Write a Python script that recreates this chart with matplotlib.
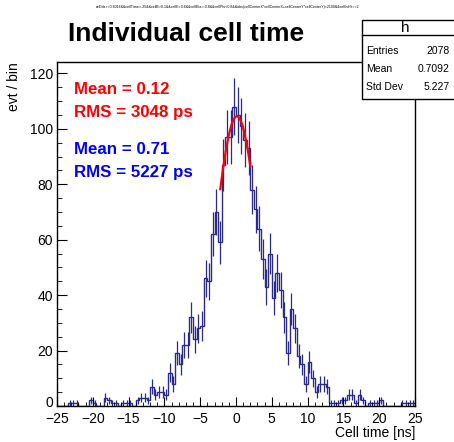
import numpy as np
import matplotlib.pyplot as plt
from matplotlib.patches import Rectangle
from matplotlib.ticker import MultipleLocator, FuncFormatter

plt.rcParams['font.family'] = ['Liberation Sans', 'DejaVu Sans']

# histogram: 100 bins of 0.5 ns from -25 to 25
bin_edges = np.linspace(-25, 25, 101)
counts = [0, 0, 0, 1, 1, 1, 0, 0, 0, 2,
          1, 0, 0, 3, 2, 1, 1, 0, 1, 1,
          1, 0, 2, 3, 3, 2, 7, 4, 5, 5,
          4, 12, 8, 19, 15, 22, 22, 32, 24, 28,
          29, 46, 45, 62, 70, 59, 87, 97, 97, 108,
          105, 101, 96, 93, 78, 71, 64, 53, 43, 55,
          39, 48, 42, 32, 19, 35, 28, 18, 15, 8,
          16, 10, 5, 8, 8, 7, 1, 1, 1, 2,
          2, 4, 4, 1, 4, 2, 0, 1, 1, 1,
          2, 0, 0, 0, 0, 0, 1, 1, 1, 1]

# gaussian fit shown in red
fit_const = 104.5
fit_mean = 0.12
fit_sigma = 3.048
fit_range = (-2.2, 2.0)

stat_names = ['Entries', 'Mean', 'Std Dev']
stat_values = ['2078', '0.7092', '5.227']

W, H = 454, 442
def fx(px):
    return px / W
def fy(py):
    return 1 - py / H

fig = plt.figure(figsize=(W / 100, H / 100), dpi=100)
ax = fig.add_axes([fx(57), fy(406), (415 - 57) / W, (406 - 62) / H])

counts = np.array(counts, dtype=float)
centers = 0.5 * (bin_edges[:-1] + bin_edges[1:])
navy = '#2a2a8a'
ax.stairs(counts, bin_edges, color=navy, linewidth=1.0)
nz = counts > 0
ax.errorbar(centers[nz], counts[nz], yerr=np.sqrt(counts[nz]), fmt='none',
            ecolor=navy, elinewidth=0.9, capsize=0)

xf = np.linspace(fit_range[0], fit_range[1], 100)
ax.plot(xf, fit_const * np.exp(-0.5 * ((xf - fit_mean) / fit_sigma) ** 2),
        color='red', linewidth=1.6)

ax.set_xlim(-25, 25)
ax.set_ylim(0, 124.1)
ax.xaxis.set_major_locator(MultipleLocator(5))
ax.xaxis.set_minor_locator(MultipleLocator(1))
ax.yaxis.set_major_locator(MultipleLocator(20))
ax.yaxis.set_minor_locator(MultipleLocator(5))
# the "0" label is placed by hand, slightly raised so it clears "-25"
ax.yaxis.set_major_formatter(FuncFormatter(lambda v, p: '' if v == 0 else f'{v:g}'))
ax.tick_params(which='both', direction='in', top=False, right=False, labelsize=10)
ax.tick_params(axis='x', which='major', length=6.5, pad=4.3)
ax.tick_params(axis='x', which='minor', length=3.2)
ax.tick_params(axis='y', which='major', length=7.2, pad=3)
ax.tick_params(axis='y', which='minor', length=3.6)
for s in ax.spines.values():
    s.set_linewidth(1.0)
ax.annotate('0', xy=(0, 0), xycoords=('axes fraction', 'data'), xytext=(-3, 2.2),
            textcoords='offset points', ha='right', va='center', fontsize=10)

fig.text(fx(415), fy(433), 'Cell time [ns]', ha='right', va='center', fontsize=10)
fig.text(fx(14), fy(62), 'evt / bin', ha='center', va='top', rotation=90, fontsize=10)

fig.text(fx(186), fy(34), 'Individual cell time', ha='center', va='center',
         fontsize=19, fontweight='bold')
fig.text(fx(228), fy(7), 'cellIdx>=0.8016&&cellTime>-25&&cellE>0.1&&cellE<0.6&&cellEta>-0.8&&cellPhi<0.8&&'
         'abs(cellCenterX*cellCenterX+cellCenterY*cellCenterY)<2100&&cellIsHit==2',
         ha='center', va='center', fontsize=2.6)

fig.text(fx(74), fy(90), 'Mean = 0.12', color='red', fontsize=12.2, fontweight='bold', va='center')
fig.text(fx(74), fy(112), 'RMS = 3048 ps', color='red', fontsize=12.2, fontweight='bold', va='center')
fig.text(fx(74), fy(149), 'Mean = 0.71', color='blue', fontsize=12.2, fontweight='bold', va='center')
fig.text(fx(74), fy(172), 'RMS = 5227 ps', color='blue', fontsize=12.2, fontweight='bold', va='center')

# stats box
fig.patches.append(Rectangle((fx(362), fy(99)), fx(456) - fx(362), fy(20) - fy(99),
                             transform=fig.transFigure, facecolor='white',
                             edgecolor='black', linewidth=1.0, zorder=5))
fig.lines.append(plt.Line2D([fx(362), fx(456)], [fy(35), fy(35)],
                            transform=fig.transFigure, color='black', linewidth=1.0, zorder=6))
fig.text(fx(405), fy(27.5), 'h', ha='center', va='center', fontsize=11, zorder=7)
for i, (n, v) in enumerate(zip(stat_names, stat_values)):
    y = 51 + i * 18
    fig.text(fx(366), fy(y), n, ha='left', va='center', fontsize=7.5, zorder=7)
    fig.text(fx(450), fy(y), v, ha='right', va='center', fontsize=7.5, zorder=7)

fig.savefig('out.png', dpi=100, facecolor='white')
